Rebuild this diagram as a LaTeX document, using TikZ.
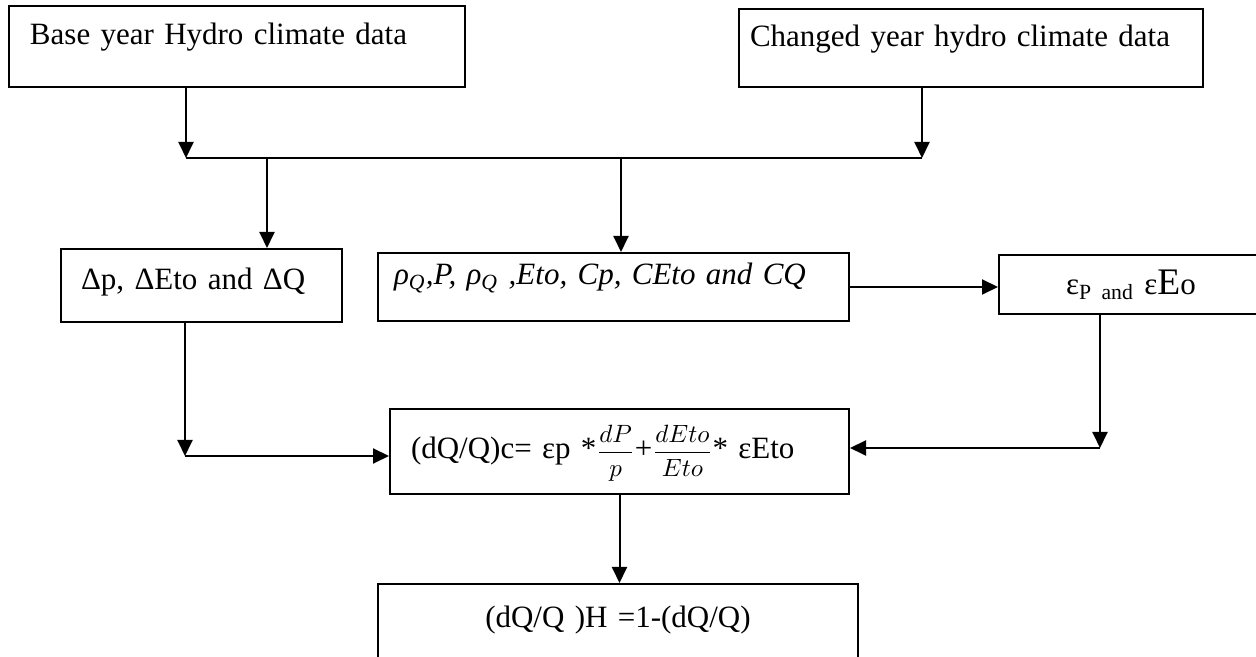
\documentclass[tikz,border=0pt]{standalone}
\usepackage{fontspec}
\setmainfont{Liberation Serif}
\usepackage{amsmath}
\usetikzlibrary{positioning}
\usetikzlibrary{arrows.meta}
\tikzset{
        box/.style={draw=black, line width=0.8pt, anchor=north west, inner ysep=0pt, font=\fontsize{12.4pt}{14pt}\selectfont},
        % Input data boxes
        box_input/.style={box, align=left},
        % Computed boxes
        box_calc/.style={box, align=left},
        % Result boxes
        box_result/.style={box, align=center}
}

\begin{document}
\begin{tikzpicture}[
            x=0.4pt, y=-0.4pt,
            ->, >={Triangle[length=6.4pt,width=6pt]}, line width=0.8pt
        ]
            \useasboundingbox (0,0) rectangle (1256,657);
            % Boxes
            \node[box_input, inner xsep=8.4pt, text width=165.6pt, text height=15.6pt, text depth=16.8pt] (base) at (8,5) {Base year Hydro climate data};
            \node[box_input, inner xsep=4.4pt, text width=176.8pt, text height=15.2pt, text depth=16pt] (changed) at (738,8) {Changed year hydro climate data};
            \node[box_calc, inner xsep=8pt, text width=96.4pt, text height=16.4pt, text depth=12.8pt] (delta) at (60,248) {Δp, ΔEto and ΔQ};
            \node[box_calc, inner xsep=6.4pt, text width=175.6pt, text height=12.8pt, text depth=14.4pt] (rho) at (377,252) {\textit{ρ\textsubscript{Q},P, ρ\textsubscript{Q} ,Eto, Cp, CEto and CQ}};
            \node[box_result, inner xsep=0pt, text width=105.6pt, text height=16pt, text depth=7.6pt] (eps) at (998,254) {ε\textsubscript{P and} ε{\fontsize{15pt}{17pt}\selectfont E}o};
            \node[box_calc, inner xsep=8.4pt, text width=166.8pt, text height=20pt, text depth=14pt] (formula) at (389,408) {(dQ/Q)c= εp *{\fontsize{10pt}{12pt}\selectfont$\dfrac{dP}{p}$}+{\fontsize{10pt}{12pt}\selectfont$\dfrac{dEto}{Eto}$}* εEto};
            \node[box_result, inner xsep=0pt, text width=192pt, text height=17.6pt, text depth=40pt] (result) at (377,583) {(dQ/Q )H =1-(dQ/Q)};
            % Junctions
            \coordinate (jl) at (186,158);
            \coordinate (jr) at (922,158);
            \coordinate (jd) at (267,158);
            \coordinate (jm) at (621,158);
            \coordinate (cl) at (185,456);
            \coordinate (cr) at (1100,448);
            % Connectors
            \draw (base.south -| jl) -- (jl);
            \draw (changed.south -| jr) -- (jr);
            \draw[-] (jl) -- (jr);
            \draw (jd) -- (jd |- delta.north);
            \draw (jm) -- (jm |- rho.north);
            \draw (delta.south -| cl) -- (cl);
            \draw (cl) -- (cl -| formula.west);
            \draw (rho.east) -- (rho.east -| eps.west);
            \draw (eps.south -| cr) -- (cr);
            \draw (cr) -- (cr -| formula.east);
            \draw (formula.south) -- (formula.south |- result.north);
        \end{tikzpicture}
\end{document}
